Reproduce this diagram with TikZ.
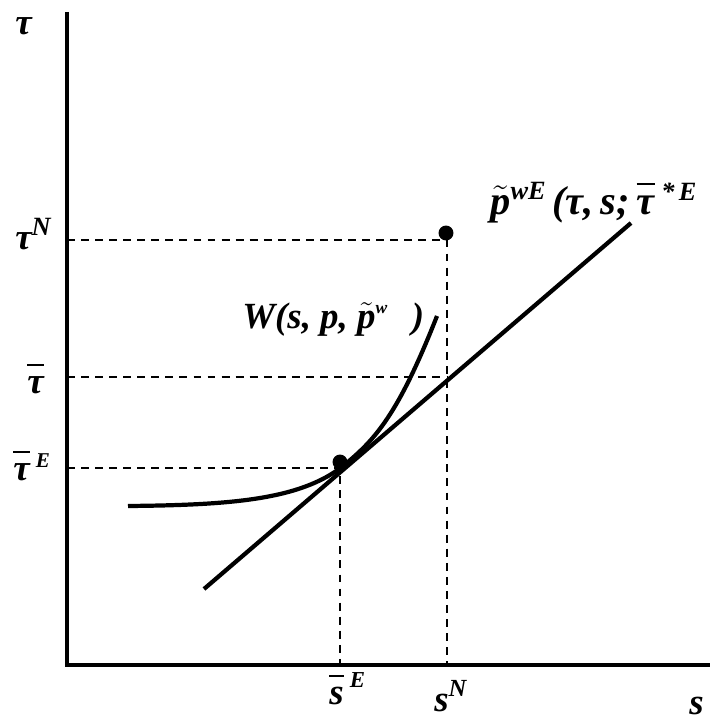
\documentclass[tikz,border=0pt]{standalone}
\usepackage{fontspec}
\setmainfont{Liberation Serif}
\usetikzlibrary{calc}

% superscript: raise, size, text
\newcommand\hi[3]{\raisebox{#1}{\fontsize{#2}{#2}\selectfont #3}}
% bar over a letter
\newcommand\br[1]{\setbox0\hbox{#1}\rlap{\rule[0.74em]{\wd0}{1.1pt}}\box0}
% tilde over a letter
\newcommand\tl[1]{\ensuremath{\tilde{\hbox{#1}}}}

\begin{document}
\begin{tikzpicture}[
    x=0.02cm, y=-0.02cm,
    lab/.style={font=\fontsize{21}{25}\selectfont\bfseries\itshape, inner sep=0, anchor=base west},
    axisline/.style={line width=2.3pt},
    curveline/.style={line width=2.4pt},
    guide/.style={line width=1.3pt, dash pattern=on 4.5pt off 3.5pt},
    dot/.style={circle, fill, inner sep=0, minimum size=8.5pt},
]
\useasboundingbox (0,0) rectangle (709,719);

% axes
\coordinate (ytop) at (67,12);
\coordinate (O) at (67,665);
\coordinate (xend) at (712,665);
\draw[axisline] (ytop) -- (O) -- (xend);

% levels on the axes
\coordinate (tN) at (67,240);   \coordinate (N) at (447,240);   \coordinate (sN) at (447,665);
\coordinate (tbar) at (67,377); \coordinate (X) at (447,377);
\coordinate (tE) at (67,468);   \coordinate (E) at (340,468);   \coordinate (sE) at (340,665);
\draw[guide] (tN) -- (N) -- (sN);
\draw[guide] (tbar) -- (X);
\draw[guide] (tE) -- (E) -- (sE);

% the straight line and the curve W
\coordinate (L1) at (204,589);
\coordinate (L2) at (631,223);
\draw[curveline] (L1) -- (L2);
\coordinate (W0) at (128,506);
\coordinate (T) at (343,466);
\coordinate (W1) at (437,316);
\draw[curveline] (W0) .. controls (230,505) and (300,500) .. (T)
    .. controls (375,440) and (398,415) .. (W1);

% the two points
\node[dot] (dN) at (446,233) {};
\node[dot] (dE) at (340,462) {};

% labels
\node[lab] (ylab) at (15,35) {τ};
\node[lab] (ltN) at (15,250) {τ\hi{8.5pt}{15}{N}};
\node[lab] (ltbar) at (27,393) {\br{τ}};
\node[lab] (ltE) at (13,480) {\br{τ}\,\hi{7pt}{12}{E}};
\node[lab] (lsE) at (329,704) {\br{s}\,\hi{9.5pt}{13}{E}};
\node[lab] (lsN) at (434,711) {s\hi{8pt}{14}{N}};
\node[lab] (xlab) at (689,714) {s};
\node[lab] (lW) at (242,328) {W(s, p, \tl{p}\hi{8pt}{10}{w}\ \ \,)};
\node[lab, font=\fontsize{23}{27}\selectfont\bfseries\itshape] (lP) at (490,215)
    {\tl{p}\hi{9pt}{15}{wE}\,(τ,\,s;\,\br{τ}\,\hi{8pt}{15}{*\,E}};
\end{tikzpicture}
\end{document}
